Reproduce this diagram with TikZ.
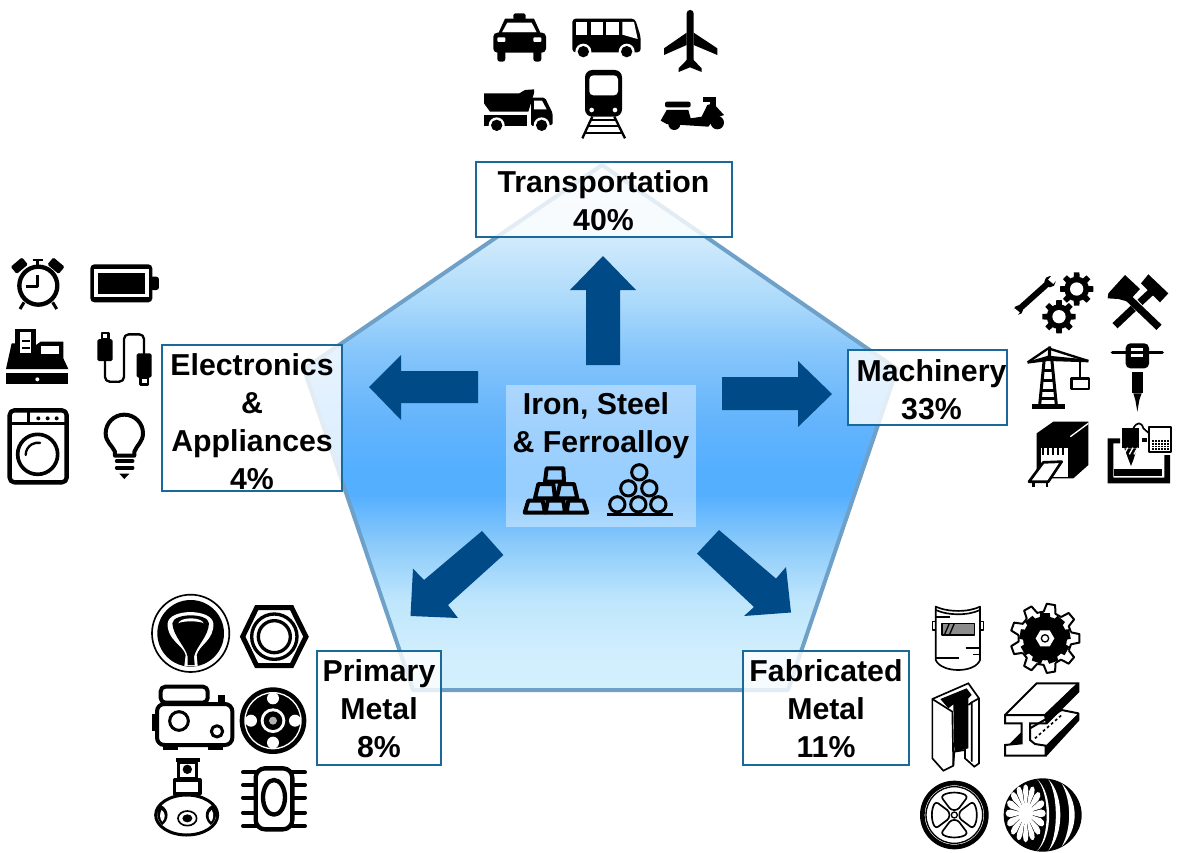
\documentclass[tikz,border=0pt]{standalone}
\usepackage{fontspec}
\setmainfont{Liberation Sans}
\usetikzlibrary{calc}
\definecolor{pa}{RGB}{232,245,254}
\definecolor{pb}{RGB}{208,234,252}
\definecolor{pc}{RGB}{172,218,251}
\definecolor{pd}{RGB}{135,198,251}
\definecolor{pe}{RGB}{100,180,252}
\definecolor{pf}{RGB}{85,175,255}
\definecolor{pg}{RGB}{140,203,250}
\definecolor{ph}{RGB}{190,230,252}
\definecolor{pi}{RGB}{208,238,253}
\definecolor{pj}{RGB}{212,240,253}
\definecolor{arrowblue}{RGB}{0,75,135}
\definecolor{boxblue}{RGB}{25,105,155}
\definecolor{pentedge}{RGB}{110,160,200}
\pgfdeclareverticalshading{pentshade}{100bp}{color(0bp)=(pj); color(25bp)=(pj); color(28.8bp)=(pi); color(33.6bp)=(ph); color(38.8bp)=(pg); color(43.6bp)=(pf); color(46bp)=(pf); color(50.7bp)=(pe); color(57.4bp)=(pd); color(62.1bp)=(pc); color(67.9bp)=(pb); color(75bp)=(pa); color(100bp)=(pa)}
\tikzset{
  catbox/.style={draw=boxblue,line width=1.5pt,fill=white,fill opacity=.8,draw opacity=1,inner sep=0pt},
  cattext/.style={inner sep=0pt,align=center,font=\bfseries\fontsize{22.7}{28.4}\selectfont},
  blockarrow/.style={fill=arrowblue},
  izoom/.style={scale=1/3},
  ln/.style={line width=#1*0.25pt,draw=black,line join=round},
  rn/.style={line width=#1*0.25pt,draw=black,line cap=round,line join=round},
  rc/.style={rounded corners=#1*0.25pt},
}
\newcommand{\gearblack}[5]{% cx cy rbody rtip teeth
  \fill[black] (#1,#2) circle (#3);
  \foreach \ga in {1,...,#5}{
    \fill[black,rotate around={\ga*360/#5:(#1,#2)}] ($(#1,#2)+(-#3*.3,0)$) -- ($(#1,#2)+(-#3*.22,-#4)$) -- ($(#1,#2)+(#3*.22,-#4)$) -- ($(#1,#2)+(#3*.3,0)$) -- cycle;
  }
}
\begin{document}
\begin{tikzpicture}[x=0.75pt,y=-0.75pt]
\useasboundingbox (0,0) rectangle (1185,853);
% pentagon
\shade[shading=pentshade] (602,165) -- (897,369) -- (788,690) -- (413,690) -- (304,369) -- cycle;
\draw[pentedge,line width=3pt,line join=round] (602,165) -- (897,369) -- (788,690) -- (413,690) -- (304,369) -- cycle;
% arrows
\fill[blockarrow] (603,256) -- (636,290) -- (620,290) -- (620,365) -- (586,365) -- (586,290) -- (570,290) -- cycle;
\fill[blockarrow] (369,387) -- (401,355) -- (401,371) -- (478,371) -- (478,403) -- (401,403) -- (401,420) -- cycle;
\fill[blockarrow] (832,394) -- (798,361) -- (798,377) -- (722,377) -- (722,410) -- (798,410) -- (798,427) -- cycle;
\fill[blockarrow] (410.5,616) -- (413,568.6) -- (424,580) -- (482,531) -- (503.4,555) -- (448,605) -- (458,618) -- cycle;
\fill[blockarrow] (791,612.5) -- (786,567) -- (776,578.6) -- (719,530) -- (697,553.6) -- (754,607) -- (744,616) -- cycle;
% boxes
\node[catbox,minimum width=192pt,minimum height=56pt] (trans) at (604,199.5) {};
\node[cattext] (transt) at (603.5,200.5) {Transportation\\40\%};
\node[catbox,minimum width=135pt,minimum height=109.5pt] (elec) at (252,418) {};
\node[cattext] (elect) at (252,421.5) {Electronics\\\&\\Appliances\\4\%};
\node[catbox,minimum width=119pt,minimum height=56pt] (mach) at (927.5,387.5) {};
\node[cattext] (macht) at (931.5,390) {Machinery\\33\%};
\node[catbox,minimum width=93pt,minimum height=85pt] (prim) at (379,708) {};
\node[cattext] (primt) at (379,708.5) {Primary\\Metal\\8\%};
\node[catbox,minimum width=124.5pt,minimum height=85pt] (fab) at (826,708) {};
\node[cattext] (fabt) at (826,708.5) {Fabricated\\Metal\\11\%};
\node[fill=white,fill opacity=.4,inner sep=0pt,minimum width=142.5pt,minimum height=106.5pt] (core) at (601,456) {};
\node[cattext] (coret1) at (596,406) {Iron, Steel};
\node[cattext] (coret2) at (601,445) {\& Ferroalloy};

% ---- centre icons
\begin{scope}[shift={(500,380)},izoom]
  \foreach \p in {
    {(140,265)--(190,265)--(192,305)--(135,305)},
    {(115,312)--(160,312)--(165,355)--(105,355)},
    {(180,312)--(222,312)--(232,355)--(170,355)},
    {(85,362)--(128,362)--(135,398)--(74,398)},
    {(143,362)--(190,362)--(195,398)--(137,398)},
    {(205,362)--(250,362)--(262,398)--(200,398)}}{
    \draw[ln=12] \p -- cycle;
  }
  \draw[ln=6] (160,312)--(163,335);
  \foreach \c in {(418,277),(385,325),(448,325),(352,373),(415,373),(475,373)}{\draw[ln=9] \c circle (23);}
  \draw[ln=9] (322,403)--(518,403);
\end{scope}

% ---- transportation icons
\begin{scope}[shift={(470,0)},izoom]
  % taxi
  \fill[rc=5] (130,40) rectangle (167,60);
  \fill (105,56)--(192,56)--(212,100)--(85,100)--cycle;
  \fill[white] (112,68)--(185,68)--(200,97)--(96,97)--cycle;
  \fill[rc=12] (70,98) rectangle (228,158);
  \fill[white,rc=3] (82,112) rectangle (106,126);
  \fill[white,rc=3] (190,112) rectangle (214,126);
  \fill[rc=8] (82,150) rectangle (106,185);
  \fill[rc=8] (190,150) rectangle (214,185);
  % bus
  \fill[rc=10] (307,56)--(495,56)--(512,110)--(512,157)--(307,157)--cycle;
  \fill[white] (317,66) rectangle (352,104);
  \fill[white] (362,66) rectangle (398,104);
  \fill[white] (409,66) rectangle (447,104);
  \fill[white] (457,66)--(492,66)--(503,117)--(457,104)--cycle;
  \foreach \c in {(340,155),(470,155)}{\fill[white] \c circle (24); \fill \c circle (17);}
  % plane
  \fill[rc=10] (650,30) rectangle (671,200);
  \fill (650,98)--(582,145)--(582,165)--(650,135)--cycle;
  \fill (671,98)--(742,145)--(742,165)--(671,135)--cycle;
  \fill (652,178)--(626,205)--(626,216)--(660,202)--(695,216)--(695,205)--(669,178)--cycle;
  % truck
  \fill (42,280)--(148,280)--(165,270)--(192,268)--(192,280)--(175,335)--(60,335)--(42,310)--cycle;
  \fill (42,345) rectangle (172,378);
  \fill[rc=5] (183,293)--(225,293)--(248,340)--(248,375)--(183,378)--cycle;
  \fill[white] (192,302)--(216,302)--(230,328)--(192,328)--cycle;
  \foreach \c in {(80,376),(215,376)}{\fill[white] \c circle (24); \fill \c circle (17);}
  % train
  \fill[rc=22] (345,210) rectangle (456,350);
  \fill[white,rc=12] (358,226) rectangle (444,286);
  \fill[white] (365,330) circle (7);
  \fill[white] (435,330) circle (7);
  \draw[ln=7] (367,350)--(337,415);
  \draw[ln=7] (433,350)--(465,415);
  \draw[ln=6] (360,360)--(440,360);
  \draw[ln=6] (352,378)--(448,378);
  \draw[ln=6] (345,398)--(455,398);
  % scooter
  \fill[rc=6] (585,305) rectangle (662,322);
  \fill (590,330)--(655,330)--(662,355)--(695,350)--(712,315)--(730,310)--(762,345)--(735,355)--(715,380)--(590,372)--(572,362)--cycle;
  \fill (700,292) rectangle (738,305);
  \fill (720,292)--(738,292)--(738,320)--(720,320)--cycle;
  \fill (742,368) circle (20);
  \fill (595,372) arc (180:0:18) -- cycle;
\end{scope}

% ---- electronics icons
\begin{scope}[shift={(0,245)},izoom]
  \draw[ln=13] (115,122) circle (57);
  \fill[rc=4,rotate around={40:(58,62)}] (36,48) rectangle (80,76);
  \fill[rc=4,rotate around={-40:(168,62)}] (146,48) rectangle (190,76);
  \draw[ln=8] (113,45)--(113,65);
  \draw[ln=8] (98,45)--(128,45);
  \draw[ln=8] (113,90)--(113,125)--(78,125);
  \draw[ln=9] (72,172)--(60,192);
  \draw[ln=9] (158,172)--(170,192);
  % battery
  \fill[rc=12] (271,58) rectangle (457,172);
  \fill[white] (283,72) rectangle (447,157);
  \fill (295,83) rectangle (435,148);
  \fill[rc=8] (450,95) rectangle (477,135);
  % register
  \fill (46,252) rectangle (108,340);
  \fill (35,295)--(108,295)--(108,300)--(122,290)--(190,290)--(190,340)--(205,372)--(18,372)--cycle;
  \fill[white] (60,262) rectangle (94,325);
  \fill (66,284) rectangle (90,291);
  \fill (66,305) rectangle (90,312);
  \fill[white] (122,302) rectangle (178,326);
  \fill (18,385) rectangle (205,418);
  \fill[white] (112,403) circle (6);
  % cable
  \fill[rc=5] (292,282) rectangle (338,348);
  \draw[ln=7] (306,264) rectangle (326,282);
  \draw[rn=7,rc=14] (315,348)--(315,410)--(372,410)--(372,268)--(432,268)--(432,325);
  \fill[rc=5] (410,325) rectangle (455,398);
  \draw[ln=8] (422,398) rectangle (444,418);
  % washer
  \draw[ln=13,rc=14] (29,496) rectangle (200,712);
  \draw[ln=9] (29,536)--(200,536);
  \draw[ln=9] (85,496)--(85,536);
  \foreach \c in {115,143,170}{\fill (\c,520) circle (6);}
  \draw[ln=11] (113,628) circle (60);
  \draw[rn=7] (77,630) arc (180:280:37);
  % bulb
  \draw[ln=12] (345,632)--(345,620) .. controls (335,600) and (317,590) .. (317,565) arc (180:360:56) .. controls (429,590) and (411,600) .. (403,620) -- (403,632) -- cycle;
  \draw[rn=11] (350,648)--(398,648);
  \draw[rn=11] (350,668)--(398,668);
  \fill (358,686)--(388,686)--(373,702)--cycle;
\end{scope}

% ---- machinery icons
\begin{scope}[shift={(1005,265)},izoom]
  % wrench
  \draw[line width=4.5pt] (45,130)--(132,52);
  \fill (40,135) circle (14);
  \fill (135,50) circle (17);
  \fill[white,rotate around={-40:(150,35)}] (140,20) rectangle (160,55);
  \fill[white,rotate around={-40:(25,150)}] (15,132) rectangle (35,168);
  % gears
  \gearblack{215}{72}{37}{50}{8}
  \fill[white] (215,72) circle (20);
  \gearblack{162}{155}{37}{50}{8}
  \fill[white] (162,155) circle (20);
  % hammers
  \draw[line width=5.5pt] (345,75)--(462,187);
  \draw[line width=5.5pt] (330,182)--(385,130);
  \draw[line width=5.5pt] (405,112)--(445,75);
  \fill (360,30)--(405,72)--(370,110)--(340,102)--(308,100)--(310,85)--cycle;
  \fill (430,28)--(490,85)--(465,112)--(408,55)--cycle;
  % crane
  \draw[ln=7] (68,292)--(130,250)--(250,288);
  \fill (130,244)--(138,244)--(138,275)--(128,275)--cycle;
  \fill (68,290)--(130,272)--(250,284)--(250,292)--(130,288)--(68,296)--cycle;
  \draw[ln=9] (118,280)--(104,420);
  \draw[ln=9] (140,280)--(154,420);
  \foreach \yy/\ww in {315/14,345/17,375/20,400/24}{\draw[ln=9] (129-\ww,\yy)--(129+\ww,\yy);}
  \fill (80,418) rectangle (180,431);
  \draw[ln=8] (225,290)--(225,340);
  \draw[ln=8] (200,340) rectangle (252,372);
  % jackhammer
  \draw[rn=10] (322,262)--(472,262);
  \fill[rc=14] (362,235) rectangle (432,310);
  \fill[white] (378,250) rectangle (414,258);
  \fill[white] (378,268) rectangle (414,276);
  \fill (380,320) rectangle (415,385);
  \fill (385,385)--(410,385)--(403,405)--(397,440)--(391,405)--cycle;
  % machine
  \fill (95,505)--(145,470)--(250,470)--(250,600)--(205,640)--(95,640)--cycle;
  \fill[white] (108,520)--(190,520)--(190,635)--(108,635)--cycle;
  \draw[white,line width=1pt] (196,515)--(250,475);
  \fill (108,520) rectangle (190,548);
  \foreach \xx in {115,130,145,160,175}{\fill (\xx-3,545) rectangle (\xx+3,570);}
  \fill[white] (115,592)--(170,590)--(130,650)--(72,650)--cycle;
  \draw[ln=8] (115,592)--(170,590)--(130,650)--(72,650)--cycle;
  \draw[ln=8] (85,650)--(85,667);
  \draw[ln=8] (126,650)--(126,667);
  % cnc
  \fill (308,520)--(345,520)--(345,535)--(325,535)--(325,638)--(478,638)--(478,570)--(495,570)--(495,655)--(308,655)--cycle;
  \fill (352,490) rectangle (402,550);
  \fill (358,550)--(396,550)--(385,585)--(378,603)--(371,585)--cycle;
  \foreach \xx in {362,378,392}{\draw[white,line width=1pt] (\xx-5,568)--(\xx+6,548);}
  \fill (328,612) rectangle (470,634);
  \fill (410,518) rectangle (425,532);
  \draw[ln=5] (385,490) .. controls (395,470) and (410,470) .. (415,490) -- (432,505);
  \draw[ln=6] (433,485) rectangle (498,560);
  \fill (440,525) rectangle (492,556);
  \foreach \xx in {447,456,465,474,483}{\draw[white,line width=.4pt] (\xx,525)--(\xx,556);}
  \foreach \yy in {532,540,548}{\draw[white,line width=.4pt] (440,\yy)--(492,\yy);}
\end{scope}

% ---- primary metal icons
\begin{scope}[shift={(145,590)},izoom]
  \draw[ln=5] (137,130) circle (116);
  \fill (137,130) circle (100);
  \fill[white] (118,228)--(122,195) .. controls (115,165) and (65,150) .. (68,100) .. controls (72,55) and (200,55) .. (205,100) .. controls (208,150) and (162,165) .. (155,195) -- (158,228) -- cycle;
  \fill (128,225)--(128,200) .. controls (122,170) and (85,140) .. (82,100) .. controls (85,68) and (190,68) .. (192,100) .. controls (190,140) and (153,170) .. (147,200) -- (149,225) -- cycle;
  \fill[white] (100,100) .. controls (105,80) and (170,80) .. (176,100) .. controls (165,92) and (110,92) .. (100,100) -- cycle;
  % nut
  \draw[ln=15,line join=miter] (335,53)--(440,53)--(483,140)--(440,227)--(335,227)--(293,140)--cycle;
  \draw[ln=10] (388,140) circle (68);
  \draw[ln=10] (388,140) circle (48);
  % camera
  \draw[ln=12,rc=14] (47,290) rectangle (188,338);
  \fill[white,rc=22] (36,342) rectangle (262,465);
  \draw[ln=12,rc=22] (36,342) rectangle (262,465);
  \draw[ln=9] (102,393) circle (28);
  \draw[ln=9] (216,424) circle (17);
  \fill (22,372) rectangle (36,424);
  \fill (218,316) rectangle (240,340);
  \fill (55,465) rectangle (100,480);
  \fill (190,465) rectangle (235,480);
  % disc
  \fill (384,392) circle (100);
  \draw[white,line width=1pt] (384,392) circle (84);
  \foreach \c in {(384,325),(318,392),(450,392),(384,458)}{\fill[white] \c circle (18);}
  \fill[white] (384,392) circle (37);
  \fill (384,392) circle (28);
  \fill[white!70!black] (384,392) circle (12);
  % 360 camera
  \fill (92,505) rectangle (165,517);
  \draw[ln=9] (100,517) rectangle (155,565);
  \fill (127,538) circle (14);
  \draw[ln=10] (88,570) rectangle (165,612);
  \draw[ln=9] (125,675) ellipse (93 and 60);
  \draw[ln=5] (127,685) ellipse (28 and 22);
  \fill (127,685) ellipse (15 and 12);
  \fill (48,645) .. controls (30,660) and (35,690) .. (52,705) .. controls (72,690) and (75,660) .. (48,645) -- cycle;
  \fill[white] (50,660) .. controls (42,670) and (45,690) .. (52,695) .. controls (62,685) and (62,668) .. (50,660) -- cycle;
  \fill (202,645) .. controls (220,660) and (215,690) .. (198,705) .. controls (178,690) and (175,660) .. (202,645) -- cycle;
  \fill[white] (200,660) .. controls (208,670) and (205,690) .. (198,695) .. controls (188,685) and (188,668) .. (200,660) -- cycle;
  % chip
  \draw[ln=13,rc=28] (332,535) rectangle (442,718);
  \draw[ln=13] (387,622) ellipse (33 and 52);
  \foreach \yy in {547,585,623,668,708}{
    \draw[rn=12] (294,\yy)--(332,\yy);
    \draw[rn=12] (442,\yy)--(480,\yy);
  }
\end{scope}

% ---- fabricated metal icons
\begin{scope}[shift={(915,595)},izoom]
  % mask
  \draw[ln=5] (62,35) .. controls (100,52) and (160,52) .. (195,35) -- (195,195) .. controls (180,235) and (80,235) .. (62,195) -- cycle;
  \draw[ln=5] (62,45) .. controls (100,62) and (160,62) .. (195,45);
  \fill[black!45] (80,85) rectangle (178,120);
  \draw[ln=5] (80,85) rectangle (178,120);
  \draw[ln=4] (103,85)--(88,120);
  \draw[ln=4] (118,85)--(103,120);
  \draw[ln=4] (52,80) rectangle (62,105);
  \draw[ln=4] (195,80) rectangle (205,105);
  \draw[ln=5] (62,65)--(105,65);
  \draw[ln=5] (152,158)--(195,158);
  \draw[ln=5] (175,178)--(195,178);
  \draw[ln=5] (62,188)--(132,188);
  % gear
  \begin{scope}[shift={(390,130)}]
    \foreach \ga in {0,40,...,320}{
      \draw[ln=6] (\ga-13:80)--(\ga-7:104)--(\ga+7:104)--(\ga+13:80)--(\ga+27:80);
    }
  \end{scope}
  \gearblack{390}{130}{66}{76}{9}
  \fill[white] (362,130)--(376,106)--(404,106)--(418,130)--(404,154)--(376,154)--cycle;
  \draw[ln=4] (390,130) circle (11);
  % T-channel
  \draw[ln=5,line join=miter] (52,312)--(160,265)--(192,310)--(192,505)--(178,515)--(150,490)--(150,465)--(118,470)--(115,512)--(85,527)--(52,490)--cycle;
  \fill (76,312)--(155,280)--(170,300)--(160,310)--(160,460)--(118,470)--(115,328)--(100,340)--cycle;
  \draw[ln=5] (52,312)--(112,350)--(115,512);
  \draw[ln=5] (160,330)--(170,322)--(170,500);
  \draw[ln=5] (170,322)--(192,310);
  % I beam
  \draw[ln=6,line join=miter] (270,360)--(365,265)--(490,265)--(490,290)--(395,385)--(345,385)--(345,435)--(360,447)--(392,452)--(392,482)--(270,482)--(270,450)--(320,445)--(320,385)--(270,385)--cycle;
  \draw[ln=6] (270,360)--(390,360)--(490,265);
  \draw[ln=6] (390,360)--(395,385);
  \fill (490,265)--(490,290)--(395,385)--(390,360)--(470,280)--cycle;
  \fill (280,450)--(320,410)--(320,445)--cycle;
  \draw[ln=6] (345,400)--(440,345)--(490,355)--(490,375)--(392,482);
  \fill (392,452)--(490,355)--(490,375)--(392,482)--cycle;
  \draw[ln=5,dash pattern=on 2pt off 2pt] (360,430)--(440,360);
  % wheel
  \draw[ln=14] (118,660) circle (96);
  \draw[ln=4] (118,660) circle (85);
  \foreach \ga in {0,90,180,270}{
    \draw[ln=5,rotate around={\ga:(118,660)},rc=8] (78,605) .. controls (100,590) and (136,590) .. (158,605) -- (128,645) -- (108,645) -- cycle;
  }
  \draw[ln=4] (118,660) circle (9);
  % tire
  \fill (383,660) ellipse (117 and 110);
  \fill[white] (365,552) .. controls (415,590) and (415,730) .. (365,768) .. controls (405,730) and (405,590) .. (365,552) -- cycle;
  \fill[white] (400,553) .. controls (448,600) and (448,720) .. (400,767) .. controls (430,720) and (430,600) .. (400,553) -- cycle;
  \fill[white] (440,565) .. controls (492,620) and (492,700) .. (440,755) .. controls (470,700) and (470,620) .. (440,565) -- cycle;
  \begin{scope}[shift={(332,655)},yscale=1.45]
    \foreach \ga in {0,22.5,...,350}{
      \fill[white,rotate=\ga] (0,0)--(46,-8)--(56,-6)--(60,0)--(56,6)--(46,8)--cycle;
    }
    \fill[white] (0,0) circle (22);
  \end{scope}
\end{scope}
\end{tikzpicture}
\end{document}
